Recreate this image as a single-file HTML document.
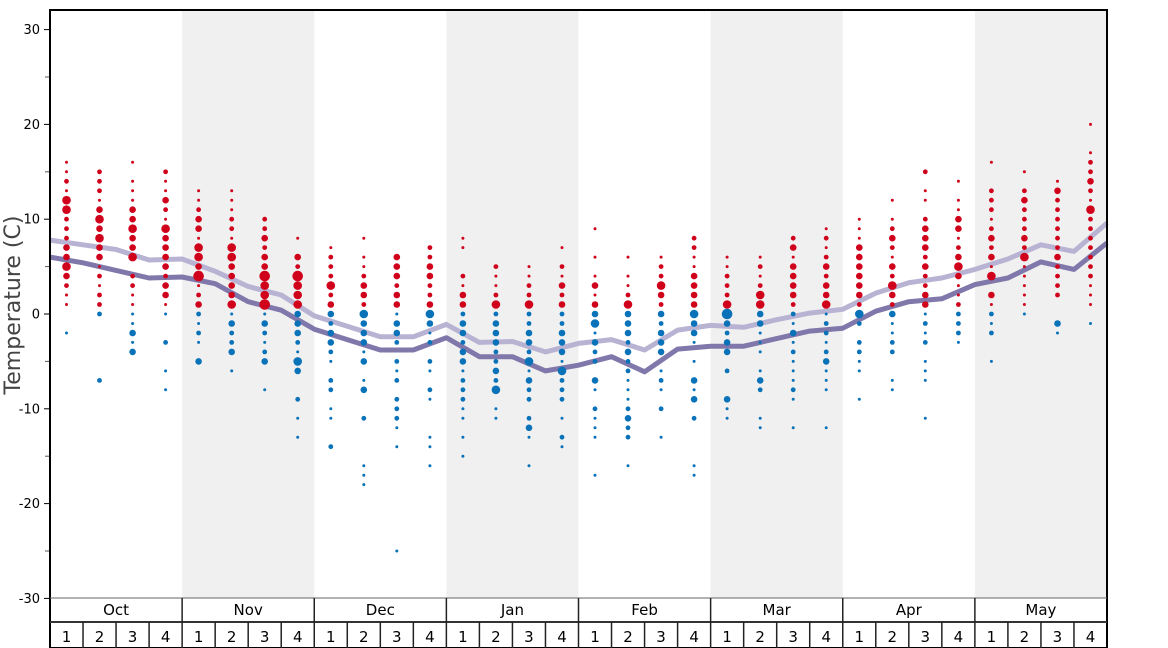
<!DOCTYPE html>
<html><head><meta charset="utf-8">
<style>
html,body{margin:0;padding:0;background:#fff;}
svg{display:block;font-family:"DejaVu Sans","Liberation Sans",sans-serif;}
</style></head>
<body>
<svg id="chart" width="1168" height="648" viewBox="0 0 1168 648" xmlns="http://www.w3.org/2000/svg">
<g id="bands"></g>
<g id="grid"></g>
<g id="lines"></g>
<g id="dots"></g>
<g id="xaxis"></g>
<text x="20" y="305" transform="rotate(-90 20 305)" text-anchor="middle" font-size="22" fill="#444">Temperature (C)</text>
</svg>
<script>
const months = ["Oct","Nov","Dec","Jan","Feb","Mar","Apr","May"];
const weekLabels = ["1","2","3","4"];
const yTicks = [30,20,10,0,-10,-20,-30];
const yMinorTicks = [25,15,5,-5,-15,-25];
const lightLine = [7.8,7.3,6.8,5.7,5.8,4.5,2.9,2.0,-0.2,-1.3,-2.4,-2.4,-1.1,-3.0,-2.9,-4.0,-3.1,-2.7,-3.8,-1.7,-1.2,-1.4,-0.6,0.1,0.5,2.2,3.3,3.8,4.7,5.8,7.3,6.6,9.6];
const darkLine = [6.0,5.4,4.6,3.8,3.9,3.2,1.3,0.4,-1.6,-2.7,-3.8,-3.8,-2.5,-4.5,-4.5,-6.0,-5.4,-4.5,-6.1,-3.7,-3.4,-3.4,-2.6,-1.8,-1.5,0.3,1.3,1.6,3.1,3.8,5.5,4.7,7.5];
const weekDots = [
"16:1 15:1 14:2 13:1 12:4 11:4 10:2 9:2 8:2 7:3 6:3 5:4 4:3 3:2 2:1 1:1 -2:1",
"15:2 14:2 13:2 12:1 11:3 10:4 9:3 8:4 7:3 6:3 5:1 4:2 3:1 2:2 1:2 0:2 -7:2",
"16:1 14:1 13:1 12:1 11:3 10:3 9:4 8:3 7:3 6:4 4:2 3:2 2:1 1:1 0:1 -1:1 -2:3 -3:1 -4:3",
"15:2 14:1 13:1 12:3 11:2 10:1 9:4 8:3 7:3 6:3 5:3 4:2 3:3 2:3 1:1 0:1 -3:2 -6:1 -8:1",
"13:1 12:1 11:2 10:3 9:3 8:1 7:4 6:4 5:3 4:5 3:1 2:2 1:3 0:2 -1:1 -2:2 -3:1 -5:3",
"13:1 12:1 11:1 10:2 9:2 8:1 7:4 6:4 5:3 4:3 3:3 2:3 1:4 0:1 -1:3 -2:2 -3:2 -4:3 -6:1",
"10:2 9:2 8:3 7:2 6:3 5:3 4:5 3:4 2:4 1:5 0:1 -1:3 -2:2 -3:1 -4:2 -5:3 -8:1",
"8:1 6:3 5:2 4:5 3:4 2:4 1:4 0:3 -1:3 -2:3 -3:2 -4:1 -5:4 -6:3 -9:2 -11:1 -13:1",
"7:1 6:2 5:2 4:2 3:4 2:2 1:3 0:3 -1:2 -2:3 -3:3 -4:2 -5:1 -7:2 -8:2 -10:1 -11:1 -14:2",
"8:1 6:1 5:1 4:2 3:3 2:3 1:2 0:4 -1:3 -2:3 -3:3 -4:1 -5:3 -7:1 -8:3 -11:2 -16:1 -17:1 -18:1",
"6:3 5:3 4:3 3:2 2:3 1:3 0:1 -1:3 -2:3 -3:2 -5:2 -6:1 -7:2 -9:2 -10:2 -11:2 -12:1 -14:1 -25:1",
"7:2 6:2 5:3 4:3 3:2 2:2 1:3 0:4 -1:3 -2:1 -3:2 -5:2 -6:1 -8:2 -9:1 -13:1 -14:1 -16:1",
"8:1 7:1 4:2 3:1 2:3 1:3 0:2 -1:3 -2:3 -3:2 -4:3 -5:3 -6:1 -7:2 -8:2 -9:2 -10:1 -11:1 -13:1 -15:1",
"5:2 4:1 3:1 2:2 1:4 0:2 -1:3 -2:3 -3:3 -4:2 -5:2 -6:3 -7:2 -8:4 -10:1 -11:1",
"5:1 4:1 3:2 2:2 1:4 0:2 -1:2 -2:3 -3:3 -4:2 -5:4 -6:1 -7:3 -8:2 -9:2 -11:2 -12:3 -13:1 -16:1",
"7:1 5:2 4:1 3:3 2:2 1:3 0:2 -1:2 -2:3 -3:3 -4:3 -5:1 -6:4 -7:2 -8:2 -9:2 -11:1 -13:2 -14:1",
"9:1 6:1 4:1 3:3 2:1 1:3 0:3 -1:4 -2:1 -3:3 -4:2 -5:2 -7:3 -8:1 -10:2 -11:1 -12:1 -13:1 -17:1",
"6:1 4:1 3:1 2:2 1:4 0:3 -1:3 -2:3 -3:2 -4:3 -5:2 -6:2 -7:1 -8:1 -9:1 -10:2 -11:3 -12:2 -13:2 -16:1",
"6:1 5:2 4:2 3:4 2:3 1:2 0:3 -1:2 -2:3 -3:3 -4:3 -6:1 -7:2 -8:1 -10:2 -13:1",
"8:2 7:2 6:1 5:1 4:3 3:3 2:3 1:3 0:4 -1:3 -2:3 -3:1 -5:1 -7:3 -8:1 -9:3 -11:2 -16:1 -17:1",
"6:1 5:1 4:2 3:2 2:2 1:4 0:5 -1:3 -2:2 -3:3 -4:3 -6:2 -9:3 -10:1 -11:1",
"6:1 5:2 4:1 3:2 2:4 1:4 0:3 -1:3 -2:1 -3:1 -4:1 -6:1 -7:3 -8:2 -11:1 -12:1",
"8:2 7:3 6:1 5:3 4:3 3:3 2:3 1:2 0:2 -1:1 -2:3 -3:1 -4:2 -5:1 -6:1 -7:1 -8:2 -9:1 -12:1",
"9:1 8:2 7:1 6:2 5:3 4:2 3:3 2:3 1:4 0:1 -1:2 -2:2 -3:1 -4:2 -5:3 -6:1 -7:1 -8:1 -12:1",
"10:1 9:1 8:1 7:3 6:3 5:3 4:3 3:3 2:3 1:2 0:4 -1:2 -3:2 -4:2 -5:1 -6:1 -9:1",
"12:1 10:1 9:2 8:3 7:2 6:1 5:3 4:2 3:4 2:3 1:2 0:3 -1:1 -2:1 -3:2 -4:2 -7:1 -8:1",
"15:2 13:1 12:1 10:2 9:3 8:3 7:3 6:2 5:3 4:2 3:2 2:3 1:3 0:1 -1:2 -2:1 -3:2 -5:1 -6:1 -7:1 -11:1",
"14:1 12:1 11:1 10:3 9:3 8:1 7:2 6:3 5:4 4:3 3:1 2:1 1:2 0:2 -1:2 -2:2 -3:1",
"16:1 13:2 12:2 11:2 10:1 9:2 8:3 7:2 6:3 5:1 4:4 2:3 1:1 0:2 -1:1 -2:2 -5:1",
"15:1 13:2 12:3 11:2 10:2 9:2 8:3 7:2 6:4 5:1 4:1 3:1 2:1 1:1 0:1",
"14:1 13:3 12:2 11:2 10:2 9:2 8:2 7:2 6:3 5:2 4:2 3:2 2:2 -1:3 -2:1",
"20:1 17:1 16:2 15:2 14:3 13:2 12:1 11:4 10:2 9:2 8:2 7:2 6:2 5:2 4:2 3:1 2:1 1:1 -1:1"
];
const NS = "http://www.w3.org/2000/svg";
const X0 = 50, X1 = 1107, TOP = 10, BOT = 598;
const NW = months.length * 4;
const wW = (X1 - X0) / NW;
function yS(v){ return 314 - v * 9.48; }
function xB(k){ return X0 + k * wW; }
function xC(i){ return X0 + (i + 0.5) * wW; }
function mk(tag, attrs, parent){ const e = document.createElementNS(NS, tag); for (const k in attrs) e.setAttribute(k, attrs[k]); parent.appendChild(e); return e; }
const bands = document.getElementById('bands');
months.forEach((m, j) => {
  if (j % 2 === 1) {
    const r = mk('rect', {x: xB(j*4), y: TOP, width: wW*4, height: BOT-TOP, fill: '#f0f0f0'}, bands);
    
    
  }
});
const grid = document.getElementById('grid');
yTicks.forEach(t => {
  const l = mk('line', {x1: 44, x2: 50, y1: yS(t), y2: yS(t), stroke: '#000', 'stroke-width': 1}, grid);
  
  
  const tx = mk('text', {x: 40, y: yS(t) + 4.5, 'text-anchor': 'end', 'font-size': 13, fill: '#000'}, grid);
  tx.textContent = t;
  
  
});
yMinorTicks.forEach(t => {
  const l = mk('line', {x1: 45, x2: 50, y1: yS(t), y2: yS(t), stroke: '#555', 'stroke-width': 1}, grid);
  
  
});
const lines = document.getElementById('lines');
function linePath(arr){ return arr.map((v,k) => (k ? 'L' : 'M') + xB(k).toFixed(1) + ',' + yS(v).toFixed(1)).join(''); }
const lp = mk('path', {d: linePath(lightLine), fill: 'none', stroke: '#b9b3d3', 'stroke-width': 5, 'stroke-linejoin': 'round'}, lines);


const dp = mk('path', {d: linePath(darkLine), fill: 'none', stroke: '#8077aa', 'stroke-width': 5, 'stroke-linejoin': 'round'}, lines);


const radii = [0, 1.5, 2.4, 3.3, 4.3, 5.3];
const dots = document.getElementById('dots');
weekDots.forEach((s, i) => {
  s.split(' ').forEach(p => {
    const [v, sz] = p.split(':').map(Number);
    const c = mk('circle', {cx: xC(i).toFixed(1), cy: yS(v).toFixed(1), r: radii[sz], fill: v > 0 ? '#d0021b' : '#0a72b8'}, dots);
    
    
  });
});
const xa = document.getElementById('xaxis');
mk('rect', {x: X0, y: TOP, width: X1-X0, height: 648-TOP, fill: 'none', stroke: '#000', 'stroke-width': 2}, xa);
mk('line', {x1: X0, x2: X1, y1: BOT, y2: BOT, stroke: '#666', 'stroke-width': 1}, xa);
mk('line', {x1: X0, x2: X1, y1: 622, y2: 622, stroke: '#333', 'stroke-width': 2}, xa);
months.forEach((m, j) => {
  if (j > 0) mk('line', {x1: xB(j*4), x2: xB(j*4), y1: BOT, y2: 648, stroke: '#222', 'stroke-width': 1.5}, xa);
  const t = mk('text', {x: xB(j*4) + wW*2, y: 615, 'text-anchor': 'middle', 'font-size': 15, fill: '#000'}, xa);
  t.textContent = m;
  
  
  weekLabels.forEach((w, q) => {
    const k = j*4 + q;
    if (q > 0) mk('line', {x1: xB(k), x2: xB(k), y1: 622, y2: 648, stroke: '#222', 'stroke-width': 1.5}, xa);
    const wt = mk('text', {x: xC(k), y: 642, 'text-anchor': 'middle', 'font-size': 15, fill: '#000'}, xa);
    wt.textContent = w;
    
    
  });
});
</script>
</body></html>
